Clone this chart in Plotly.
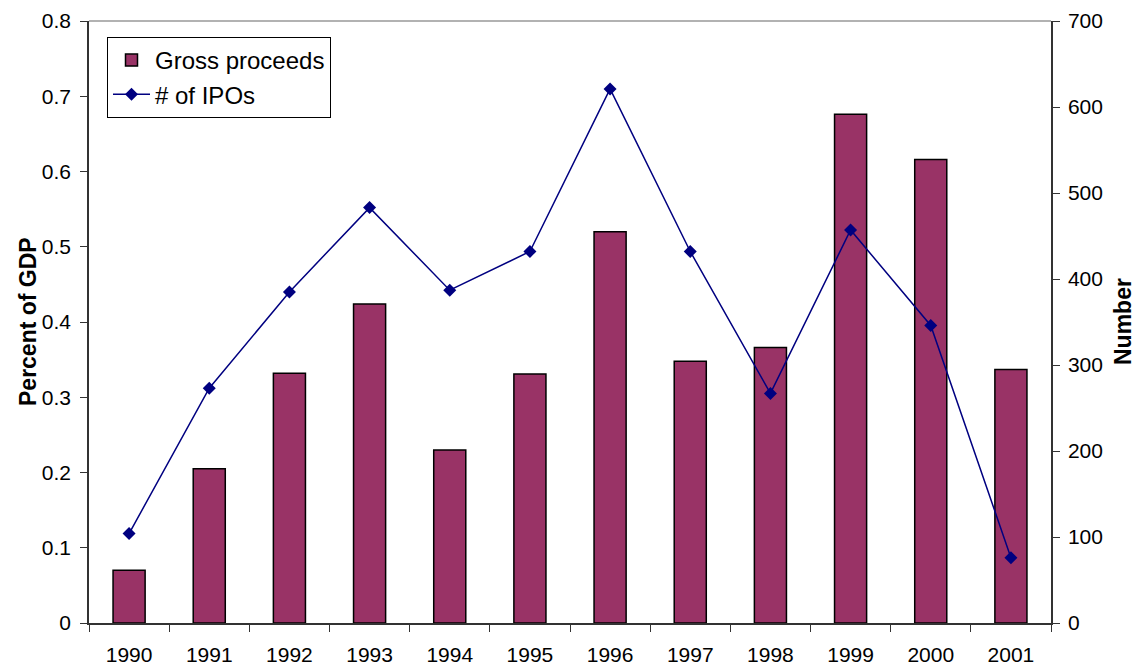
import plotly.graph_objects as go

years = ["1990", "1991", "1992", "1993", "1994", "1995", "1996", "1997", "1998", "1999", "2000", "2001"]
gross_proceeds = [0.070, 0.205, 0.332, 0.424, 0.230, 0.331, 0.520, 0.348, 0.366, 0.676, 0.616, 0.337]
num_ipos = [104, 273, 385, 483, 387, 432, 621, 432, 267, 457, 346, 76]

FONT = "Liberation Sans, Arial, sans-serif"
L, R, T, B = 81, 92, 13, 44
W, H = 1135, 659
PW = W - L - R
PH = H - T - B

fig = go.Figure()
fig.add_trace(go.Bar(
    x=years, y=gross_proceeds, name="Gross proceeds",
    marker=dict(color="#993366", line=dict(color="#000000", width=1.5)),
    width=0.4, yaxis="y",
))
fig.add_trace(go.Scatter(
    x=years, y=num_ipos, name="# of IPOs", mode="lines+markers",
    line=dict(color="#000080", width=1.5),
    marker=dict(symbol="diamond", size=10, color="#000080"),
    yaxis="y2",
))

fig.update_layout(
    width=W, height=H,
    margin=dict(l=L, r=R, t=T, b=B, pad=0, autoexpand=False),
    paper_bgcolor="white", plot_bgcolor="white",
    font=dict(family=FONT, size=21, color="#000000"),
    showlegend=True,
    legend=dict(
        x=(107 - 89) / PW, y=1 - (37 - 21) / PH, xanchor="left", yanchor="top",
        bgcolor="white", bordercolor="#000000", borderwidth=1,
        font=dict(family=FONT, size=24, color="#000000"),
        tracegroupgap=0, itemwidth=37,
    ),
    xaxis=dict(
        type="category", range=[-0.5, len(years) - 0.5],
        tickson="boundaries", ticks="outside", ticklen=7,
        tickcolor="#333333", showline=True, linecolor="#333333", linewidth=1.5,
        showgrid=False, zeroline=False, tickfont=dict(size=21),
        ticklabelstandoff=12, automargin=False,
    ),
    yaxis=dict(
        range=[0, 0.8], dtick=0.1, ticks="outside", ticklen=7,
        tickcolor="#333333", showline=True, linecolor="#333333", linewidth=1.5,
        showgrid=False, zeroline=False, tickfont=dict(size=21),
        ticklabelstandoff=5, automargin=False,
    ),
    yaxis2=dict(
        range=[0, 700], dtick=100, overlaying="y", side="right",
        ticks="outside", ticklen=7, tickcolor="#333333",
        showline=True, linecolor="#333333", linewidth=1.5,
        showgrid=False, zeroline=False, tickfont=dict(size=21),
        ticklabelstandoff=4, automargin=False,
    ),
    annotations=[
        dict(text="<b>Percent of GDP</b>", xref="paper", yref="paper",
             x=(20 - L) / PW, y=0.5, xanchor="center", yanchor="middle",
             textangle=-90, showarrow=False, font=dict(family=FONT, size=23)),
        dict(text="<b>Number</b>", xref="paper", yref="paper",
             x=(1115 - L) / PW, y=0.5, xanchor="center", yanchor="middle",
             textangle=-90, showarrow=False, font=dict(family=FONT, size=23)),
    ],
    shapes=[
        dict(type="line", xref="paper", yref="paper", x0=0, x1=1, y0=1, y1=1,
             line=dict(color="#999999", width=1.5)),
    ],
)

fig.write_html("out.html")
